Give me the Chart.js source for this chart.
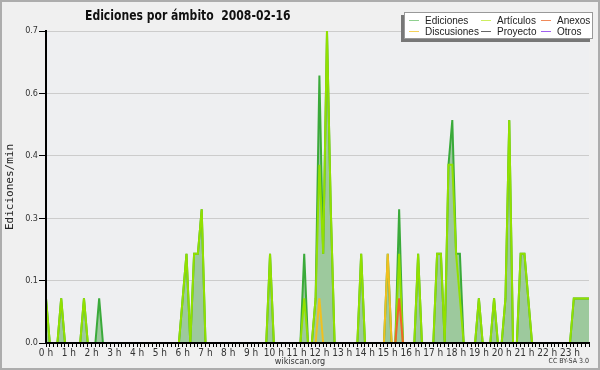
<!DOCTYPE html>
<html>
<head>
<meta charset="utf-8">
<script src="https://cdn.jsdelivr.net/npm/chart.js@4.4.1/dist/chart.umd.min.js"></script>
<style>
  html, body { margin: 0; padding: 0; background: #f0f0f0; }
  #wrap { position: relative; width: 600px; height: 370px; overflow: hidden; }
  #grafico { position: absolute; left: 0; top: 0; }
  #marco { position: absolute; left: 0; top: 0; width: 596px; height: 366px; border: 2px solid #adadad; pointer-events: none; }
  #titulo { position: absolute; left: 85px; top: 7px; line-height: 14px; font: bold 14px 'DejaVu Sans Condensed', sans-serif; white-space: pre; color: #111; transform: scaleX(0.86); transform-origin: 0 0; }
  #sombra { position: absolute; left: 401px; top: 15px; width: 189px; height: 27px; background: #777; }
  #leyenda { position: absolute; left: 404px; top: 12px; width: 187px; height: 25px; background: #fff; border: 1px solid #999; }
  .item { position: absolute; font: 10px 'Liberation Sans', Arial, sans-serif; line-height: 10px; color: #222; white-space: nowrap; }
  .item i { position: absolute; left: -16px; top: 4px; width: 10px; height: 1px; }
  #fuente { position: absolute; left: 0; width: 600px; text-align: center; top: 356px; font: 9px 'DejaVu Sans Condensed', sans-serif; line-height: 10px; color: #333; }
  #licencia { position: absolute; right: 11px; top: 357px; font: 7px 'DejaVu Sans Condensed', sans-serif; line-height: 8px; color: #333; }
</style>
</head>
<body>
<div id="wrap">
  <canvas id="grafico" width="600" height="370"></canvas>
  <div id="titulo">Ediciones por ámbito  2008-02-16</div>
  <div id="sombra"></div>
  <div id="leyenda"></div>
  <div id="fuente">wikiscan.org</div>
  <div id="licencia">CC BY-SA 3.0</div>
  <div id="marco"></div>
</div>
<script>
// Etiquetas del eje X (una por hora) y del eje Y
const etiquetasHora = ['0 h', '1 h', '2 h', '3 h', '4 h', '5 h', '6 h', '7 h', '8 h', '9 h', '10 h', '11 h',
    '12 h', '13 h', '14 h', '15 h', '16 h', '17 h', '18 h', '19 h', '20 h', '21 h', '22 h', '23 h'];
const ticksY = [0, 0.14, 0.28, 0.42, 0.56, 0.7];
const etiquetasY = ['0.0', '0.1', '0.3', '0.4', '0.6', '0.7'];
const ticksYMenores = [0, 0.035, 0.07, 0.105, 0.14, 0.175, 0.21, 0.245, 0.28, 0.315, 0.35,
    0.385, 0.42, 0.455, 0.49, 0.525, 0.56, 0.595, 0.63, 0.665, 0.7];

// Ediciones/min por intervalos de 10 minutos (12 valores = 2 horas por fila)
const ediciones = [
    0.1, 0, 0, 0, 0.1, 0, 0, 0, 0, 0, 0.1, 0,
    0, 0, 0.1, 0, 0, 0, 0, 0, 0, 0, 0, 0,
    0, 0, 0, 0, 0, 0, 0, 0, 0, 0, 0, 0,
    0.1, 0.2, 0, 0.2, 0.2, 0.3, 0, 0, 0, 0, 0, 0,
    0, 0, 0, 0, 0, 0, 0, 0, 0, 0, 0, 0.2,
    0, 0, 0, 0, 0, 0, 0, 0, 0.2, 0, 0, 0.1,
    0.6, 0.2, 0.7, 0.3, 0, 0, 0, 0, 0, 0, 0, 0.2,
    0, 0, 0, 0, 0, 0, 0.2, 0, 0, 0.3, 0, 0,
    0, 0, 0.2, 0, 0, 0, 0, 0.2, 0.2, 0, 0.4, 0.5,
    0.2, 0.2, 0, 0, 0, 0, 0.1, 0, 0, 0, 0.1, 0,
    0, 0.1, 0.5, 0, 0, 0.2, 0.2, 0.1, 0, 0, 0, 0,
    0, 0, 0, 0, 0, 0, 0, 0.1, 0.1, 0.1, 0.1, 0.1
];
const articulos = [
    0.1, 0, 0, 0, 0.1, 0, 0, 0, 0, 0, 0.1, 0,
    0, 0, 0, 0, 0, 0, 0, 0, 0, 0, 0, 0,
    0, 0, 0, 0, 0, 0, 0, 0, 0, 0, 0, 0,
    0.1, 0.2, 0, 0.2, 0.2, 0.3, 0, 0, 0, 0, 0, 0,
    0, 0, 0, 0, 0, 0, 0, 0, 0, 0, 0, 0.2,
    0, 0, 0, 0, 0, 0, 0, 0, 0.1, 0, 0, 0.1,
    0.4, 0.2, 0.7, 0.3, 0, 0, 0, 0, 0, 0, 0, 0.2,
    0, 0, 0, 0, 0, 0, 0, 0, 0, 0.2, 0, 0,
    0, 0, 0.2, 0, 0, 0, 0, 0.2, 0.2, 0, 0.4, 0.4,
    0.2, 0.1, 0, 0, 0, 0, 0.1, 0, 0, 0, 0.1, 0,
    0, 0.1, 0.5, 0, 0, 0.2, 0.2, 0.1, 0, 0, 0, 0,
    0, 0, 0, 0, 0, 0, 0, 0.1, 0.1, 0.1, 0.1, 0.1
];
const anexos = [
    0, 0, 0, 0, 0, 0, 0, 0, 0, 0, 0, 0,
    0, 0, 0, 0, 0, 0, 0, 0, 0, 0, 0, 0,
    0, 0, 0, 0, 0, 0, 0, 0, 0, 0, 0, 0,
    0, 0, 0, 0, 0, 0, 0, 0, 0, 0, 0, 0,
    0, 0, 0, 0, 0, 0, 0, 0, 0, 0, 0, 0,
    0, 0, 0, 0, 0, 0, 0, 0, 0, 0, 0, 0,
    0, 0, 0, 0, 0, 0, 0, 0, 0, 0, 0, 0,
    0, 0, 0, 0, 0, 0, 0, 0, 0, 0.1, 0, 0,
    0, 0, 0, 0, 0, 0, 0, 0, 0, 0, 0, 0,
    0, 0, 0, 0, 0, 0, 0, 0, 0, 0, 0, 0,
    0, 0, 0, 0, 0, 0, 0, 0, 0, 0, 0, 0,
    0, 0, 0, 0, 0, 0, 0, 0, 0, 0, 0, 0
];
const discusiones = [
    0, 0, 0, 0, 0, 0, 0, 0, 0, 0, 0, 0,
    0, 0, 0, 0, 0, 0, 0, 0, 0, 0, 0, 0,
    0, 0, 0, 0, 0, 0, 0, 0, 0, 0, 0, 0,
    0, 0, 0, 0, 0, 0, 0, 0, 0, 0, 0, 0,
    0, 0, 0, 0, 0, 0, 0, 0, 0, 0, 0, 0,
    0, 0, 0, 0, 0, 0, 0, 0, 0, 0, 0, 0,
    0.1, 0, 0, 0, 0, 0, 0, 0, 0, 0, 0, 0,
    0, 0, 0, 0, 0, 0, 0.2, 0, 0, 0, 0, 0,
    0, 0, 0, 0, 0, 0, 0, 0, 0, 0, 0, 0,
    0, 0, 0, 0, 0, 0, 0, 0, 0, 0, 0, 0,
    0, 0, 0, 0, 0, 0, 0, 0, 0, 0, 0, 0,
    0, 0, 0, 0, 0, 0, 0, 0, 0, 0, 0, 0
];
const proyecto = [
    0, 0, 0, 0, 0, 0, 0, 0, 0, 0, 0, 0,
    0, 0, 0, 0, 0, 0, 0, 0, 0, 0, 0, 0,
    0, 0, 0, 0, 0, 0, 0, 0, 0, 0, 0, 0,
    0, 0, 0, 0, 0, 0, 0, 0, 0, 0, 0, 0,
    0, 0, 0, 0, 0, 0, 0, 0, 0, 0, 0, 0,
    0, 0, 0, 0, 0, 0, 0, 0, 0, 0, 0, 0,
    0, 0, 0, 0, 0, 0, 0, 0, 0, 0, 0, 0,
    0, 0, 0, 0, 0, 0, 0, 0, 0, 0, 0, 0,
    0, 0, 0, 0, 0, 0, 0, 0, 0, 0, 0, 0,
    0, 0, 0, 0, 0, 0, 0, 0, 0, 0, 0, 0,
    0, 0, 0, 0, 0, 0, 0, 0, 0, 0, 0, 0,
    0, 0, 0, 0, 0, 0, 0, 0, 0, 0, 0, 0
];
const otros = [
    0, 0, 0, 0, 0, 0, 0, 0, 0, 0, 0, 0,
    0, 0, 0, 0, 0, 0, 0, 0, 0, 0, 0, 0,
    0, 0, 0, 0, 0, 0, 0, 0, 0, 0, 0, 0,
    0, 0, 0, 0, 0, 0, 0, 0, 0, 0, 0, 0,
    0, 0, 0, 0, 0, 0, 0, 0, 0, 0, 0, 0,
    0, 0, 0, 0, 0, 0, 0, 0, 0, 0, 0, 0,
    0, 0, 0, 0, 0, 0, 0, 0, 0, 0, 0, 0,
    0, 0, 0, 0, 0, 0, 0, 0, 0, 0, 0, 0,
    0, 0, 0, 0, 0, 0, 0, 0, 0, 0, 0, 0,
    0, 0, 0, 0, 0, 0, 0, 0, 0, 0, 0, 0,
    0, 0, 0, 0, 0, 0, 0, 0, 0, 0, 0, 0,
    0, 0, 0, 0, 0, 0, 0, 0, 0, 0, 0, 0
];

const enPuntos = arr => arr.map((v, i) => ({ x: i, y: v }));

// orden: los de número mayor se dibujan debajo
const series = [
    { label: 'Ediciones',   data: ediciones,   color: '#3aaa3a', legend: '#8fd08f', order: 6 },
    { label: 'Artículos',   data: articulos,   color: '#92e000', legend: '#cdee60', order: 5 },
    { label: 'Anexos',      data: anexos,      color: '#f0642a', legend: '#f08a5a', order: 1 },
    { label: 'Discusiones', data: discusiones, color: '#f0c020', legend: '#f5d25a', order: 2 },
    { label: 'Proyecto',    data: proyecto,    color: '#555555', legend: '#666666', order: 3 },
    { label: 'Otros',       data: otros,       color: '#9040f0', legend: '#a060f0', order: 4 }
];

// leyenda en 3 columnas
const posLeyenda = [[20, 3], [92, 3], [152, 3], [20, 13.5], [92, 13.5], [152, 13.5]];
const caja = document.getElementById('leyenda');
['Ediciones', 'Artículos', 'Anexos', 'Discusiones', 'Proyecto', 'Otros'].forEach((nombre, k) => {
    const s = series.find(d => d.label === nombre);
    const el = document.createElement('div');
    el.className = 'item';
    el.style.left = posLeyenda[k][0] + 'px';
    el.style.top = posLeyenda[k][1] + 'px';
    el.innerHTML = '<i style="background:' + s.legend + '"></i>' + nombre;
    caja.appendChild(el);
});

const fondoArea = {
    id: 'fondoArea',
    beforeDraw(chart) {
        const { ctx, chartArea: a } = chart;
        ctx.save();
        ctx.fillStyle = '#eeeff1';
        ctx.fillRect(a.left, a.top, a.right - a.left, a.bottom - a.top);
        ctx.restore();
    }
};

const fuenteEjes = { family: "'DejaVu Sans Condensed', sans-serif", size: 10 };

new Chart(document.getElementById('grafico'), {
    type: 'line',
    data: {
        datasets: series.map(s => ({
            label: s.label,
            data: enPuntos(s.data),
            borderColor: s.color,
            borderWidth: 2,
            pointRadius: 0,
            tension: 0,
            order: s.order,
            fill: s.label === 'Ediciones' ? 'origin' : false,
            backgroundColor: s.label === 'Ediciones' ? '#9dc99d' : s.color
        }))
    },
    options: {
        responsive: false,
        animation: false,
        layout: { padding: { left: 0, top: 31, right: 11, bottom: 0 } },
        plugins: {
            legend: { display: false },
            tooltip: { enabled: false }
        },
        scales: {
            x: {
                type: 'linear',
                min: 0,
                max: 143,
                afterFit: s => { s.height = 27; },
                border: { color: '#000', width: 2, z: 1 },
                grid: { drawOnChartArea: false, color: '#000', tickLength: 4 },
                ticks: {
                    stepSize: 1,
                    autoSkip: false,
                    maxRotation: 0,
                    padding: 0,
                    color: '#333',
                    font: fuenteEjes,
                    callback: v => (v % 6 === 0 ? etiquetasHora[v / 6] : '')
                }
            },
            y: {
                min: 0,
                max: 0.7,
                afterFit: s => { s.width = 46; },
                afterBuildTicks: s => { s.ticks = ticksY.map(v => ({ value: v })); },
                border: { color: '#000', width: 2, z: 1 },
                grid: {
                    color: c => (c.index > 0 ? '#cccccc' : 'rgba(0,0,0,0)'),
                    tickColor: '#000',
                    tickLength: 7
                },
                ticks: {
                    padding: 1,
                    color: '#333',
                    font: { family: fuenteEjes.family, size: 9 },
                    callback: (v, i) => etiquetasY[i]
                },
                title: {
                    display: true,
                    text: 'Ediciones/min',
                    color: '#222',
                    font: { family: "'DejaVu Sans Mono', monospace", size: 11 },
                    padding: { top: 4, bottom: 0 }
                }
            },
            yMenor: {
                position: 'left',
                min: 0,
                max: 0.7,
                afterFit: s => { s.width = 0; },
                afterBuildTicks: s => { s.ticks = ticksYMenores.map(v => ({ value: v })); },
                border: { display: false },
                grid: { drawOnChartArea: false, color: '#000', tickLength: 3 },
                ticks: { display: false }
            }
        }
    },
    plugins: [fondoArea]
});
</script>
</body>
</html>
